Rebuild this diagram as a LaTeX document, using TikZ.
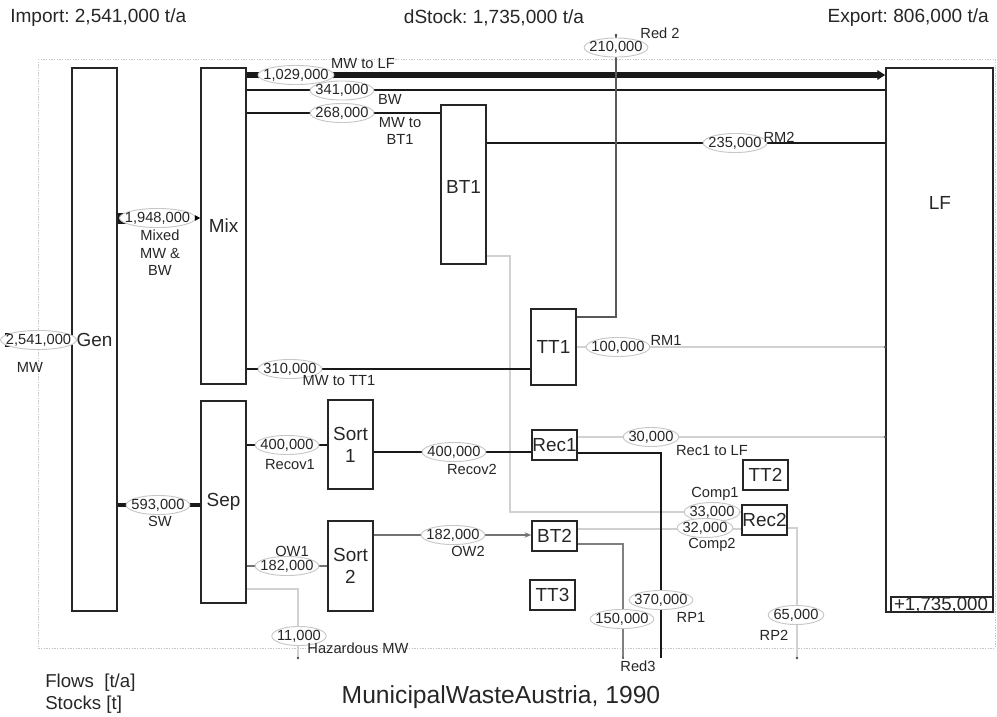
\documentclass[tikz,border=0pt]{standalone}
\usepackage{fontspec}
\setmainfont{Liberation Sans}
\usetikzlibrary{calc,arrows.meta}
\frenchspacing
\newcommand\vfont{\fontsize{11}{12.5}\selectfont}
\newcommand\bfontx{\fontsize{14.2}{17}\selectfont}
\newcommand\vlab[3]{%
  \node[inner sep=0pt, font=\vfont] (#1) at (#2) {\phantom{#3}};
  \path[draw=black!22, line width=0.7pt, fill=white] let \p1=($(#1.east)-(#1.west)$), \p2=($(#1.north)-(#1.south)$) in (#1.center) ellipse [x radius={0.5*\x1+3.8pt}, y radius={0.5*\y2+2.4pt}];
  \node[inner sep=0pt, font=\vfont, text=black!85] (#1t) at (#1.center) {#3};
}
\begin{document}
\begin{tikzpicture}[x=0.75pt,y=-0.75pt,
  box/.style={draw=black!85, line width=1.1pt, inner sep=0pt, minimum width=33.75pt, font=\bfontx, text=black!85},
  sbox/.style={box, minimum height=22.5pt},
  tl/.style={inner sep=0pt, font=\vfont, text=black!85, align=center},
  lg/.style={draw=black!18, line width=0.8pt},
  g150/.style={draw=black!50, line width=0.8pt},
  g182/.style={draw=black!55, line width=0.85pt},
  g210/.style={draw=black!65, line width=0.9pt},
  blk/.style={draw=black!90, line width=#1},
  dotend/.style={fill=black!70}
]
\useasboundingbox (0,0) rectangle (997,717);
% frame
\draw[black!22, line width=0.6pt, dash pattern=on 1pt off 1pt] (38,59) rectangle (995,648);

% header texts
\node[anchor=west, inner sep=0pt, font=\fontsize{14.3}{17}\selectfont, text=black!85] (imp) at (10,18) {Import: 2,541,000 t/a};
\node[inner sep=0pt, font=\fontsize{14.3}{17}\selectfont, text=black!85] (dst) at (494,18) {dStock: 1,735,000 t/a};
\node[anchor=east, inner sep=0pt, font=\fontsize{14.3}{17}\selectfont, text=black!85] (exp) at (989,18) {Export: 806,000 t/a};
\node[anchor=west, inner sep=0pt, font=\fontsize{14}{16}\selectfont, text=black!85] (flw) at (45,683) {Flows\ \ [t/a]};
\node[anchor=west, inner sep=0pt, font=\fontsize{14}{16}\selectfont, text=black!85] (stk) at (45,705) {Stocks [t]};
\node[inner sep=0pt, font=\fontsize{18.5}{22}\selectfont, text=black!85] (title) at (501,697) {MunicipalWasteAustria, 1990};

% processes
\node[box, minimum height=407.25pt] (Gen) at (94.5,339.5) {Gen};
\node[box, minimum height=237pt] (Mix) at (223.5,226) {Mix};
\node[box, minimum height=151.5pt] (Sep) at (223.5,502) {Sep};
\node[box, minimum height=119.25pt] (BT1) at (463.5,184.5) {};
\node[inner sep=0pt, font=\bfontx, text=black!85] (BT1l) at (463.5,187) {BT1};
\node[box, minimum height=57pt] (TT1) at (553.5,347) {TT1};
\node[box, minimum height=66.75pt, align=center, font=\fontsize{14.2}{16.5}\selectfont] (Sort1) at (350.5,444.5) {Sort\\1};
\node[box, minimum height=67.5pt, align=center, font=\fontsize{14.2}{16.5}\selectfont] (Sort2) at (350.5,566) {Sort\\2};
\node[sbox] (Rec1) at (554.5,445) {Rec1};
\node[sbox] (BT2) at (554.5,536) {BT2};
\node[sbox] (TT3) at (552.5,595) {TT3};
\node[sbox] (TT2) at (765.5,475) {TT2};
\node[sbox] (Rec2) at (764.5,520) {Rec2};
\node[box, minimum width=80.25pt, minimum height=408pt] (LF) at (939.5,340) {};
\node[inner sep=0pt, font=\bfontx, text=black!85] (LFl) at (940,203) {LF};
\coordinate (stkNW) at (891,597);
\draw[black!85, line width=0.8pt] (stkNW) rectangle (LF.south east);
\node[inner sep=0pt, font=\fontsize{14}{16}\selectfont, text=black!85] (stock) at (941,605.5) {+1,735,000};

% end points
\coordinate (HazEnd) at (298,658);
\coordinate (RP2end) at (797,658);
\coordinate (Red3end) at (623,658);
\coordinate (Red2end) at (616,35);
\coordinate (RP1end) at (661,658);
\coordinate (b33) at (510,512);
\coordinate (srcMW) at (5,340);

% light flows
\draw[lg] (Sep.east |- 0,589) -| (HazEnd);
\draw[lg] (BT1.east |- 0,256) -| (b33) -- (Rec2.west |- b33);
\draw[lg] (BT2.east |- 0,529) -- (Rec2.west |- 0,529);
\draw[lg] (Rec1.east |- 0,437) -- (LF.west |- 0,437);
\draw[lg] (TT1.east |- 0,347) -- (LF.west |- 0,347);
\draw[lg] (Rec2.east |- 0,528) -| (RP2end);
% grey flows
\draw[g150] (BT2.east |- 0,544) -| (Red3end);
\draw[g182, -{Stealth[length=5pt,width=4pt]}] (Sort2.east |- 0,535) -- (BT2.west |- 0,535);
\draw[g182] (Sep.east |- 0,566) -- (Sort2.west |- 0,566);
% black flows
\draw[blk=1pt] (BT1.east |- 0,143) -- (LF.west |- 0,143);
\draw[blk=1.15pt] (Mix.east |- 0,113) -- (BT1.west |- 0,113);
\draw[blk=1.3pt] (Mix.east |- 0,369) -- (TT1.west |- 0,369);
\draw[blk=1.45pt] (Mix.east |- 0,90) -- (LF.west |- 0,90);
\draw[blk=2pt] (Rec1.east |- 0,453) -| (RP1end);
\draw[blk=1.8pt] (Sep.east |- 0,445) -- (Sort1.west |- 0,445);
\draw[blk=1.8pt] (Sort1.east |- 0,452) -- (Rec1.west |- 0,452);
\draw[blk=2.6pt] (Gen.east |- 0,505) -- (Sep.west |- 0,505);
\draw[blk=4.5pt, -{Triangle[length=6pt,width=7pt]}] (Mix.east |- 0,75) -- (LF.west |- 0,75);
\draw[g210] (TT1.east |- 0,317) -| (Red2end);
\coordinate (c1948) at (157.5,218);
\draw[blk=8.25pt] (Gen.east |- c1948) -- (c1948);
\coordinate (c2541) at (38.5,340);
\draw[blk=10.5pt] (srcMW) -- (c2541);

% dots
\fill[dotend] (HazEnd) circle (1pt);
\fill[dotend] (RP2end) circle (1pt);
\fill[dotend] (Red3end) circle (0.8pt);
\fill[dotend] (Red2end) circle (1pt);
\fill[dotend] (LF.west |- 0,347) circle (1pt);
\fill[dotend] (LF.west |- 0,437) circle (1pt);

% value labels
\vlab{v2541}{c2541}{2,541,000}
\vlab{v1948}{c1948}{1,948,000}
\draw[black, line width=0.8pt, -{Triangle[length=4pt,width=4pt]}] ([xshift=3.5pt]v1948.east) -- (Mix.west |- v1948);
\vlab{v593}{158,505}{593,000}
\vlab{v1029}{296,75}{1,029,000}
\vlab{v341}{342,90.5}{341,000}
\vlab{v268}{342,113}{268,000}
\vlab{v235}{735,143}{235,000}
\vlab{v210}{616,47.5}{210,000}
\vlab{v100}{618,347}{100,000}
\vlab{v310}{290,369}{310,000}
\vlab{v400a}{287,445}{400,000}
\vlab{v400b}{454,452}{400,000}
\vlab{v30}{651,437}{30,000}
\vlab{v33}{712,512}{33,000}
\vlab{v32}{705,528}{32,000}
\vlab{v182b}{453,535}{182,000}
\vlab{v182a}{287,566}{182,000}
\vlab{v370}{661,600}{370,000}
\vlab{v150}{622,619}{150,000}
\vlab{v65}{796,615}{65,000}
\vlab{v11}{299,636}{11,000}

% flow names
\node[tl] (nMW) at (30,367) {MW};
\node[tl, font=\fontsize{11}{13}\selectfont] (nMix) at (160,253) {Mixed\\MW \&\\BW};
\node[tl] (nSW) at (160,521) {SW};
\node[tl] (nMWLF) at (363,64) {MW to LF};
\node[tl] (nBW) at (390,99) {BW};
\node[tl, font=\fontsize{11}{13}\selectfont] (nMWBT1) at (400,131) {MW to\\BT1};
\node[tl] (nRM2) at (779,137) {RM2};
\node[tl] (nRed2) at (660,33) {Red 2};
\node[tl] (nRM1) at (666,340) {RM1};
\node[tl] (nMWTT1) at (339,381) {MW to TT1};
\node[tl] (nRecov1) at (290,465) {Recov1};
\node[tl] (nRecov2) at (472,469) {Recov2};
\node[tl] (nRec1LF) at (712,451) {Rec1 to LF};
\node[tl] (nComp1) at (715,494) {Comp1};
\node[tl] (nComp2) at (712,545) {Comp2};
\node[tl] (nOW2) at (468,551) {OW2};
\node[tl] (nOW1) at (292,551) {OW1};
\node[tl] (nRP1) at (691,617) {RP1};
\node[tl] (nRP2) at (774,635) {RP2};
\node[tl] (nRed3) at (638,666) {Red3};
\node[tl] (nHaz) at (358,648) {Hazardous MW};
\end{tikzpicture}
\end{document}
